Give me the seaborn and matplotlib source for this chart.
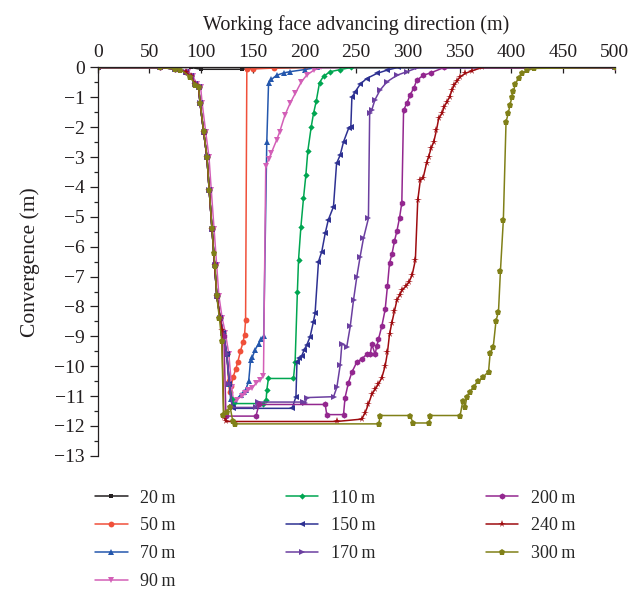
import matplotlib
matplotlib.use("Agg")
import matplotlib.pyplot as plt
from matplotlib.ticker import MultipleLocator
import pandas as pd
import seaborn as sns

# Shared pre-mining profile of the roadway (advance in m, convergence in m)
approach_x = [0, 60, 75, 85, 90, 94, 97.5, 99, 102.4, 105.6, 107.8, 110.5, 113, 115.2, 118.4, 121.5, 124.8]
approach_y = [0, 0, -0.05, -0.15, -0.3, -0.55, -0.65, -1.2, -2.15, -3.0, -4.1, -5.4, -6.6, -7.65, -8.4, -8.9, -9.6]

x_20 = [0, 90, 100, 140, 150, 200, 500]
y_20 = [0, 0, -0.06, -0.06, -0.02, 0, 0]

x_50 = [126.5, 127.5, 129, 131, 133.5, 135.5, 138, 140.5, 142, 143, 144.2, 150, 170, 200, 500]
y_50 = [-10.5, -10.85, -10.65, -10.35, -10.1, -9.85, -9.5, -9.2, -8.95, -8.45, -0.05, -0.05, -0.02, 0, 0]

x_70 = [127.4, 128.5, 133, 138.5, 141, 143, 146, 147.8, 149.5, 152.2, 155.5, 158, 160.5, 163.5,
        165.2, 168, 173, 180, 186, 200, 212, 500]
y_70 = [-10.6, -11.1, -11.15, -10.95, -10.85, -10.8, -10.5, -9.8, -9.7, -9.45, -9.25, -9.1, -9.0, -2.49,
        -0.53, -0.4, -0.26, -0.18, -0.14, -0.07, 0, 0]

x_90 = [0, 60, 77, 87, 92, 96, 99.5, 101, 104.4, 107.6, 109.8, 112.5, 115, 117.2, 120.4, 123.5, 126.8,
        129.5, 131.5, 134.5, 139.4, 142.6, 145.8, 149, 153.2, 157, 160.3, 162.5, 165.2, 168, 173, 176,
        181, 186, 191, 197, 202, 209, 216, 500]
y_90 = [0, 0, -0.05, -0.15, -0.3, -0.55, -0.65, -1.2, -2.15, -3.0, -4.1, -5.4, -6.6, -7.65, -8.4, -8.9, -9.6,
        -10.7, -11.2, -11.12, -11.0, -10.9, -10.79, -10.74, -10.57, -10.46, -10.32, -3.3, -3.08, -2.85, -2.43, -2.15,
        -1.6, -1.2, -0.87, -0.48, -0.26, -0.09, 0, 0]

x_110 = [127.4, 129.6, 131, 160, 162.9, 163.5, 165.1, 189.3, 190.9, 193.1, 194.2, 196.5, 199, 201.3, 203.2,
         206.5, 208.7, 211.3, 214.5, 218.4, 225, 234.5, 245, 500]
y_110 = [-10.6, -11.1, -11.25, -11.25, -11.12, -10.8, -10.41, -10.41, -9.85, -7.5, -6.44, -5.33, -4.38, -3.6, -2.79,
         -1.98, -1.54, -1.13, -0.51, -0.29, -0.14, -0.07, 0, 0]

x_150 = [127.4, 130, 131, 188, 191.7, 192.7, 195.1, 197.3, 199.6, 202.2, 205.4, 208.6, 210.2, 213.5, 216.7,
         220, 223, 228, 231, 234.5, 237.7, 242.6, 244.8, 245.8, 249, 253.9, 260, 270, 279.7, 290, 500]
y_150 = [-10.6, -11.35, -11.41, -11.41, -11.02, -9.85, -9.73, -9.66, -9.45, -9.29, -9.01, -8.51, -8.23, -6.5, -6.16,
         -5.55, -5.1, -4.66, -3.21, -2.93, -2.49, -2.04, -1.98, -1.0, -0.81, -0.56, -0.37, -0.2, -0.09, 0, 0]

x_170 = [127.4, 130, 153, 155, 199, 200.6, 202.2, 228.1, 231.3, 234.5, 236.1, 240.9, 244.2, 247.4, 250.6,
         253.8, 257, 261.8, 263, 265, 268, 273, 279.7, 289.4, 299, 310, 500]
y_170 = [-10.6, -11.38, -11.38, -11.2, -11.2, -11.24, -11.05, -11.02, -10.7, -9.96, -9.25, -9.34, -8.67, -7.78, -7.0,
         -6.33, -5.72, -5.05, -1.54, -1.43, -1.09, -0.76, -0.48, -0.26, -0.14, 0, 0]

x_200 = [122, 124, 153, 156, 220, 221.5, 237.7, 239.2, 242.5, 245.8, 250.6, 255.4, 260.3, 263.5, 265.1, 268.3,
         269.9, 271.5, 274.8, 278, 280.2, 282.2, 284.5, 287, 289.3, 291.9, 294.1, 295.8, 299, 302, 305.5, 308.7,
         315, 322, 335, 500]
y_200 = [-9.0, -11.67, -11.67, -11.28, -11.28, -11.62, -11.62, -11.05, -10.55, -10.2, -9.86, -9.75, -9.6, -9.6, -9.27, -9.6,
         -9.32, -9.1, -8.65, -8.1, -7.32, -6.54, -6.26, -5.81, -5.48, -5.03, -4.53, -1.43, -1.2, -0.93, -0.7, -0.42,
         -0.26, -0.18, 0, 0]

x_240 = [120, 122, 124, 231, 255.4, 258.7, 261.8, 265.1, 268.3, 271.5, 274.8, 278, 280.2, 282.2, 284.5, 287,
         289.3, 291.9, 294.5, 298.5, 301, 304, 307.2, 309.5, 312, 314.7, 318, 320, 322.4, 325, 327.6, 329.8,
         333, 335, 337.8, 340.4, 342.6, 344.9, 347.4, 350.6, 355.4, 361.9, 372, 500]
y_240 = [-8.8, -11.7, -11.85, -11.85, -11.77, -11.55, -11.27, -10.94, -10.77, -10.6, -10.38, -9.99, -9.54, -8.93, -8.54, -8.15,
         -7.8, -7.62, -7.45, -7.3, -7.18, -6.96, -6.45, -4.45, -3.77, -3.7, -3.21, -2.99, -2.71, -2.49, -2.1, -1.7,
         -1.54, -1.32, -1.15, -0.98, -0.76, -0.59, -0.45, -0.31, -0.2, -0.11, 0, 0]

x_300 = [0, 60, 75, 80, 89.4, 94.2, 97.5, 99.1, 102.4, 105.6, 107.8, 110.5, 112.1, 113.5, 115, 117.7, 120,
         121.6, 124.8, 128, 130.6, 132.9, 272, 273, 302, 305, 320.8, 321.5, 350.5, 353, 355.4, 357, 360.3,
         363.5, 368, 373, 378, 379.5, 382.5, 385.2, 387.6, 389.5, 392.3, 394.9, 397, 398.7, 400.5, 402,
         404, 407, 410, 415, 422, 500]
y_300 = [0, 0, -0.05, -0.07, -0.31, -0.58, -0.64, -1.19, -2.14, -2.98, -4.09, -5.38, -6.21, -6.65, -7.62, -8.4, -9.17,
         -11.63, -11.52, -11.35, -11.85, -11.93, -11.93, -11.65, -11.65, -11.9, -11.9, -11.65, -11.65, -11.18, -11.35, -11.02, -10.85,
         -10.68, -10.5, -10.35, -10.18, -9.57, -9.36, -8.48, -8.17, -6.8, -5.1, -1.82, -1.54, -1.26, -1.0, -0.8,
         -0.55, -0.35, -0.2, -0.1, -0.03, 0]

cases = ["20\u2009m", "50\u2009m", "70\u2009m", "90\u2009m", "110\u2009m",
         "150\u2009m", "170\u2009m", "200\u2009m", "240\u2009m", "300\u2009m"]
xs = [x_20, approach_x + x_50, approach_x + x_70, x_90, approach_x + x_110,
      approach_x + x_150, approach_x + x_170, approach_x[:-2] + x_200, approach_x[:-2] + x_240, x_300]
ys = [y_20, approach_y + y_50, approach_y + y_70, y_90, approach_y + y_110,
      approach_y + y_150, approach_y + y_170, approach_y[:-2] + y_200, approach_y[:-2] + y_240, y_300]

colors = ["#231f20", "#f0503a", "#2457ad", "#d35fb7", "#00a651",
          "#2e3192", "#6b3fa0", "#93278f", "#9e0b0f", "#808018"]
markers = ["s", "o", "^", "v", "D", "<", ">", "h", "*", "p"]
marker_sizes = [3.5, 4.2, 4.2, 4.5, 3.2, 4.2, 4.2, 4.5, 5.5, 4.8]

frames = []
for name, x, y in zip(cases, xs, ys):
    frames.append(pd.DataFrame({"advance": x, "convergence": y, "case": name}))
df = pd.concat(frames, ignore_index=True)

sns.set_theme(style="ticks")
plt.rcParams["font.family"] = ["Liberation Serif", "DejaVu Serif"]
plt.rcParams["axes.unicode_minus"] = True

fig = plt.figure(figsize=(6.43, 5.92), dpi=100)
ax = fig.add_axes([0.152, 0.230, 0.804, 0.656])

sns.lineplot(data=df, x="advance", y="convergence", hue="case", style="case",
             hue_order=cases, style_order=cases, palette=colors, markers=markers,
             dashes=False, sort=False, estimator=None, linewidth=1.1,
             markersize=4.2, markeredgewidth=0, ax=ax)
for line, size in zip(ax.lines, marker_sizes):
    line.set_markersize(size)

ax.set_xlim(0, 500)
ax.set_ylim(-13, 0)
ax.xaxis.tick_top()
ax.xaxis.set_label_position("top")
ax.xaxis.set_major_locator(MultipleLocator(50))
ax.yaxis.set_major_locator(MultipleLocator(1))
ax.yaxis.set_minor_locator(MultipleLocator(0.5))
ax.spines["bottom"].set_visible(False)
ax.spines["right"].set_visible(False)
for side in ("top", "left"):
    ax.spines[side].set_linewidth(0.9)
    ax.spines[side].set_color("#231f20")
ax.tick_params(axis="x", direction="in", length=4, width=0.9, labelsize=14, pad=5, colors="#231f20")
ax.tick_params(axis="y", which="major", direction="out", length=6, width=0.9, labelsize=14, colors="#231f20")
ax.tick_params(axis="y", which="minor", direction="out", length=3, width=0.9)
ax.set_xlabel("Working face advancing direction (m)", fontsize=14.5, labelpad=10, color="#231f20")
ax.set_ylabel("Convergence (m)", fontsize=15.5, labelpad=10, color="#231f20")

sns.move_legend(ax, "upper left", bbox_to_anchor=(0.148, 0.173), bbox_transform=fig.transFigure,
                ncol=3, frameon=False, title=None, fontsize=13, handlelength=1.8,
                handletextpad=0.7, columnspacing=6.1, labelspacing=0.6, borderpad=0, borderaxespad=0)
for handle, size in zip(ax.get_legend().legend_handles, marker_sizes):
    handle.set_markersize(size)

fig.savefig("out.png", dpi=100)
